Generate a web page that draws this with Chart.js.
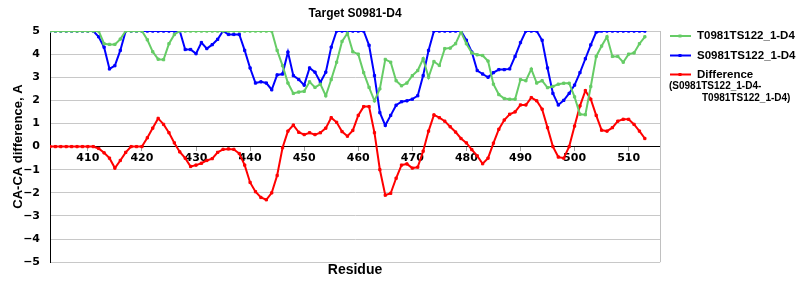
<!DOCTYPE html>
<html>
<head>
<meta charset="utf-8">
<script src="https://cdn.jsdelivr.net/npm/chart.js@4.4.1/dist/chart.umd.min.js"></script>
<style>
  html, body { margin: 0; padding: 0; background: #fff; }
</style>
</head>
<body>
<canvas id="chart" width="800" height="300"></canvas>
<script>
// Residue numbers (x)
const residues = [
  403, 404, 405, 406, 407, 408, 409, 410, 411, 412,
  413, 414, 415, 416, 417, 418, 419, 420, 421, 422,
  423, 424, 425, 426, 427, 428, 429, 430, 431, 432,
  433, 434, 435, 436, 437, 438, 439, 440, 441, 442,
  443, 444, 445, 446, 447, 448, 449, 450, 451, 452,
  453, 454, 455, 456, 457, 458, 459, 460, 461, 462,
  463, 464, 465, 466, 467, 468, 469, 470, 471, 472,
  473, 474, 475, 476, 477, 478, 479, 480, 481, 482,
  483, 484, 485, 486, 487, 488, 489, 490, 491, 492,
  493, 494, 495, 496, 497, 498, 499, 500, 501, 502,
  503, 504, 505, 506, 507, 508, 509, 510, 511, 512,
  513
];

// T0981TS122_1-D4 (green)
const targetT = [
  5, 5, 5, 5, 5, 5, 5, 5, 5, 5,
  4.45, 4.42, 4.42, 4.65, 5, 5, 5, 5, 4.62, 4.1,
  3.78, 3.76, 4.45, 4.85, 5, 5, 5, 5, 5, 5,
  5, 5, 5, 5, 5, 5, 5, 5, 5, 5,
  5, 5, 4.16, 3.5, 2.75, 2.3, 2.36, 2.39, 2.8, 2.56,
  2.7, 2.2, 2.9, 3.65, 4.55, 4.9, 4.1, 4.0, 3.2, 2.56,
  1.98, 2.5, 3.77, 3.65, 2.85, 2.63, 2.75, 3.07, 3.29, 3.8,
  3.0, 3.68, 3.51, 4.24, 4.26, 4.45, 4.96, 4.45, 4.05, 3.97,
  3.94, 3.7, 2.7, 2.25, 2.08, 2.05, 2.05, 2.9, 2.85, 3.35,
  2.75, 2.85, 2.55, 2.6, 2.7, 2.74, 2.74, 2.15, 1.4, 1.38,
  2.6, 3.9, 4.35, 4.75, 3.9, 3.9, 3.65, 4.0, 4.05, 4.45,
  4.75
];

// S0981TS122_1-D4 (blue)
const modelS = [
  5, 5, 5, 5, 5, 5, 5, 5, 5, 4.75,
  4.3, 3.36, 3.5, 4.16, 5, 5, 5, 5, 5, 5,
  5, 5, 5, 5, 5, 4.2, 4.2, 4.02, 4.5, 4.24,
  4.41, 4.64, 5, 4.85, 4.85, 4.85, 4.16, 3.4, 2.75, 2.8,
  2.75, 2.46, 3.1, 3.14, 4.09, 3.07, 2.9, 2.66, 3.4, 3.22,
  2.78, 3.22, 4.3, 5, 5, 5, 5, 5, 5, 4.38,
  3.07, 1.47, 0.92, 1.35, 1.79, 1.94, 1.98, 2.05, 2.2, 3.07,
  4.16, 5, 5, 5, 5, 5, 5, 4.6, 4.09, 3.29,
  3.14, 3.0, 3.2, 3.33, 3.33, 3.36, 3.9, 4.5, 5, 5,
  5, 4.6, 3.4, 2.3, 1.8, 2.0, 2.3, 2.66, 3.2, 3.8,
  4.4, 4.95, 5, 5, 5, 5, 5, 5, 5, 5,
  5
];

// Difference (red)
const difference = [
  0, 0, 0, 0, 0, 0, 0, 0, 0, -0.08,
  -0.27, -0.5, -0.93, -0.6, -0.25, 0, 0, 0, 0.38, 0.8,
  1.22, 0.96, 0.6, 0.16, -0.23, -0.5, -0.86, -0.8, -0.72, -0.6,
  -0.52, -0.25, -0.12, -0.1, -0.12, -0.3, -0.8, -1.55, -1.95, -2.2,
  -2.3, -2.0, -1.25, -0.05, 0.67, 0.93, 0.62, 0.52, 0.6, 0.52,
  0.6, 0.8, 1.25, 1.05, 0.65, 0.45, 0.7, 1.35, 1.73, 1.73,
  0.6, -1.0, -2.1, -2.02, -1.37, -0.8, -0.75, -0.93, -0.89, -0.2,
  0.67, 1.37, 1.25, 1.1, 0.86, 0.63, 0.35, 0.16, -0.13, -0.4,
  -0.74, -0.5, 0.15, 0.75, 1.15, 1.4, 1.5, 1.8, 1.8, 2.12,
  1.98, 1.62, 0.82, 0, -0.45, -0.5, 0, 0.89, 1.76, 2.42,
  2.05, 1.35, 0.71, 0.67, 0.82, 1.1, 1.18, 1.18, 0.96, 0.67,
  0.35
];

const xTicks = [410, 420, 430, 440, 450, 460, 470, 480, 490, 500, 510];
const yTicks = [-5, -4, -3, -2, -1, 0, 1, 2, 3, 4, 5];

const seriesNames = ['T0981TS122_1-D4', 'S0981TS122_1-D4', 'Difference'];
const diffNote = ['(S0981TS122_1-D4-', 'T0981TS122_1-D4)'];
const colors = ['#66cc66', '#0000ff', '#ff0000'];

function toPoints(values) {
    return residues.map((r, i) => ({ x: r, y: values[i] }));
}

function lineSet(label, values, color) {
    return {
        label: label,
        data: toPoints(values),
        borderColor: color,
        backgroundColor: color,
        borderWidth: 2,
        pointStyle: 'rect',
        pointRadius: 1.6,
        pointBorderWidth: 1,
        pointHoverRadius: 1.6,
        tension: 0,
        xAxisID: 'x',
        yAxisID: 'y'
    };
}

const boldSans = (size) => ({ family: '"Liberation Sans", Arial, sans-serif', size: size, weight: 'bold' });
const tickFont = { family: '"DejaVu Sans", sans-serif', size: 11, weight: 'bold' };

// legend on the right, drawn by hand so it can carry the two-line note
const sideLegend = {
    id: 'sideLegend',
    afterDraw(chart) {
        const ctx = chart.ctx;
        const rowsY = [36, 55.5, 74.5];
        ctx.save();
        seriesNames.forEach((name, i) => {
            const y = rowsY[i];
            ctx.strokeStyle = colors[i];
            ctx.lineWidth = 2;
            ctx.beginPath();
            ctx.moveTo(670, y);
            ctx.lineTo(691, y);
            ctx.stroke();
            ctx.fillStyle = colors[i];
            ctx.fillRect(678.5, y - 1.5, 3, 3);
            ctx.fillStyle = '#000';
            ctx.font = 'bold 11.5px "Liberation Sans", Arial, sans-serif';
            ctx.textBaseline = 'middle';
            ctx.textAlign = 'left';
            ctx.fillText(name, 697, y);
        });
        ctx.font = 'bold 10px "Liberation Sans", Arial, sans-serif';
        ctx.fillText(diffNote[0], 669, 86);
        ctx.fillText(diffNote[1], 702, 98.5);

        // grey frame on the right of the plot
        const a = chart.chartArea;
        ctx.strokeStyle = '#c0c0c0';
        ctx.lineWidth = 1;
        ctx.beginPath();
        ctx.moveTo(Math.round(a.right) + 0.5, a.top);
        ctx.lineTo(Math.round(a.right) + 0.5, a.bottom);
        ctx.stroke();
        ctx.restore();
    }
};

new Chart(document.getElementById('chart').getContext('2d'), {
    type: 'line',
    data: {
        datasets: [
            lineSet(seriesNames[0], targetT, colors[0]),
            lineSet(seriesNames[1], modelS, colors[1]),
            lineSet(seriesNames[2], difference, colors[2])
        ]
    },
    options: {
        responsive: false,
        animation: false,
        layout: { padding: { top: 0, right: 140, bottom: 0, left: 0 } },
        plugins: {
            legend: { display: false },
            tooltip: { enabled: false },
            title: {
                display: true,
                text: 'Target S0981-D4',
                fullSize: false,
                color: '#000',
                font: boldSans(12),
                padding: { top: 6, bottom: 10.6 }
            }
        },
        scales: {
            x: {
                type: 'linear',
                min: 403,
                max: 515.8,
                position: { y: 0 },
                afterBuildTicks: (s) => { s.ticks = xTicks.map(v => ({ value: v })); },
                grid: { drawOnChartArea: false, drawTicks: true, tickLength: 4, color: '#a0a0a0' },
                border: { color: '#000', width: 1 },
                ticks: { font: tickFont, color: '#000', padding: 1, maxRotation: 0, autoSkip: false }
            },
            xTitle: {
                type: 'linear',
                position: 'bottom',
                grid: { display: false, drawTicks: false },
                border: { display: false },
                ticks: { display: false },
                title: {
                    display: true,
                    text: 'Residue',
                    color: '#000',
                    font: boldSans(14),
                    padding: { top: 0, bottom: 21 }
                }
            },
            y: {
                min: -5,
                max: 5,
                afterBuildTicks: (s) => { s.ticks = yTicks.map(v => ({ value: v })); },
                afterFit: (s) => { s.width = 50; },
                grid: {
                    color: (c) => (c.tick && c.tick.value === 0) ? '#000' : '#c8c8c8',
                    drawTicks: false
                },
                border: { color: '#000', width: 1 },
                ticks: {
                    font: tickFont,
                    color: '#000',
                    padding: 10,
                    callback: (v) => String(v).replace('-', '\u2212')
                },
                title: {
                    display: true,
                    text: 'CA-CA difference, A',
                    color: '#000',
                    font: boldSans(13),
                    padding: { top: 11, bottom: 0 }
                }
            }
        }
    },
    plugins: [sideLegend]
});
</script>
</body>
</html>
